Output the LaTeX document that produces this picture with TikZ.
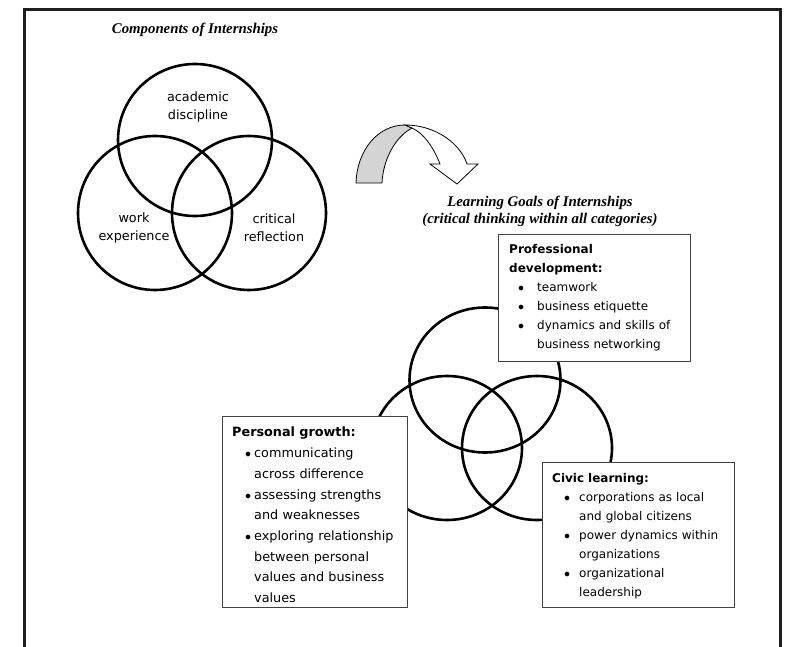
\documentclass[tikz,border=0pt]{standalone}
\usepackage{fontspec}
\setmainfont{Liberation Serif}
\newfontfamily\vf{DejaVu Sans}
\newcommand\gbul{$\bullet$}
\newcommand\gitem[3]{\par\hangindent=#2\hangafter=1\noindent\hspace*{#1}\makebox[\dimexpr#2-#1\relax][l]{\gbul}#3}
\begin{document}
\begin{tikzpicture}[x=1pt,y=-1pt,
  ring/.style={line width=2.6pt},
  boxstyle/.style={draw=black!75, line width=1pt, fill=white, inner sep=0pt, anchor=north west},
  boxtext/.style={anchor=north west, inner sep=0pt},
  lab/.style={font=\vf\fontsize{12.8}{18}\selectfont, align=center, inner sep=0pt},
  ttl/.style={font=\fontsize{14.8}{17}\selectfont\bfseries\itshape, align=center, inner sep=0pt},
  arrowline/.style={line width=0.8pt, line join=miter}]
\useasboundingbox (0,0) rectangle (787,647);
% frame
\draw[line width=3pt, black!88] (24,647) -- (24,10) -- (780,10) -- (780,647);
% titles
\node[ttl] (comp) at (195,30) {Components of Internships};
\node[ttl] (goals) at (540,211) {Learning Goals of Internships\\(critical thinking within all categories)};
% upper venn
\draw[ring] (195,140) ellipse [x radius=77pt, y radius=76pt];
\draw[ring] (155,213) ellipse [x radius=77pt, y radius=77pt];
\draw[ring] (249,213) ellipse [x radius=77pt, y radius=77pt];
\node[lab] (acad) at (198,107) {academic\\discipline};
\node[lab] (work) at (134,228) {work\\experience};
\node[lab] (crit) at (274,228) {critical\\reflection};
% curved arrow
\filldraw[arrowline, fill=black!17] (356,183) .. controls (357,150) and (378,125) .. (405,125) -- (412,128) .. controls (395,137) and (383,160) .. (382,183) -- cycle;
\filldraw[arrowline, fill=white] (405,125) .. controls (437,125) and (461,145) .. (467,164) -- (478,164) -- (457,184) -- (430,164) -- (440,164) .. controls (433,146) and (423,133) .. (412,128) -- cycle;
% lower venn
\draw[ring] (485,380) ellipse [x radius=75.5pt, y radius=72.5pt];
\draw[ring] (447,448) ellipse [x radius=75pt, y radius=72pt];
\draw[ring] (537,448) ellipse [x radius=75pt, y radius=72pt];
% professional development
\node[boxstyle, minimum width=192pt, minimum height=127pt] (pd) at (498,234) {};
\node[boxtext, text width=178pt, font=\vf\fontsize{12}{19}\selectfont] (pdt) at (509,244) {\raggedright
\noindent{\bfseries Professional\newline development:}%
\gitem{9pt}{28pt}{teamwork}%
\gitem{9pt}{28pt}{business etiquette}%
\gitem{9pt}{28pt}{dynamics and skills of\newline business networking}\par};
% personal growth
\node[boxstyle, minimum width=185pt, minimum height=191pt] (pg) at (222,416) {};
\node[boxtext, text width=172pt, font=\vf\fontsize{12.8}{20.7}\selectfont] (pgt) at (232,427) {\raggedright
\noindent{\bfseries Personal growth:}%
\gitem{13pt}{22pt}{communicating\newline across difference}%
\gitem{13pt}{22pt}{assessing strengths\newline and weaknesses}%
\gitem{13pt}{22pt}{exploring relationship\newline between personal\newline values and business\newline values}\par};
% civic learning
\node[boxstyle, minimum width=192pt, minimum height=145pt] (cl) at (542,462) {};
\node[boxtext, text width=178pt, font=\vf\fontsize{12}{19}\selectfont] (clt) at (552,473) {\raggedright
\noindent{\bfseries Civic learning:}%
\gitem{12pt}{27pt}{corporations as local\newline and global citizens}%
\gitem{12pt}{27pt}{power dynamics within\newline organizations}%
\gitem{12pt}{27pt}{organizational\newline leadership}\par};
\end{tikzpicture}
\end{document}
